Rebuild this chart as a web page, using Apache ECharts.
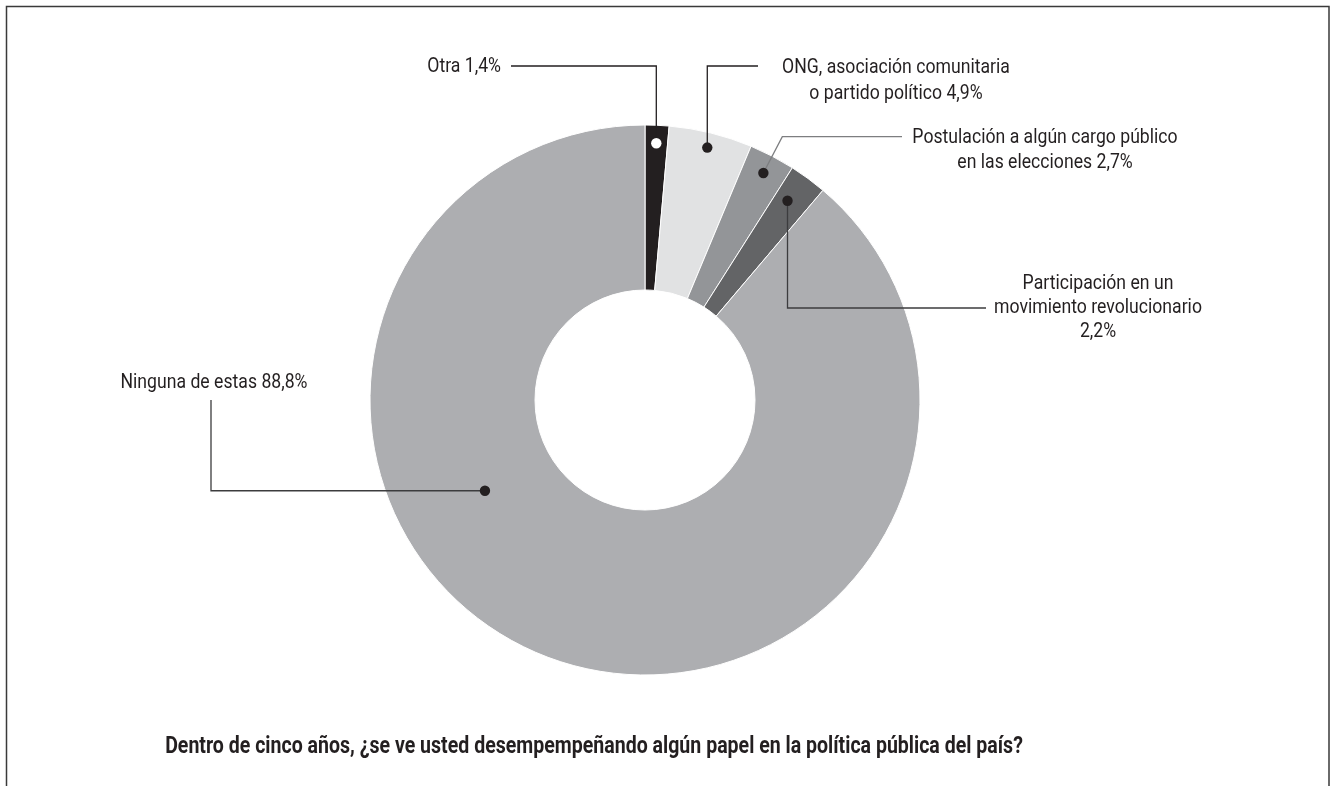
<!DOCTYPE html>
<html>
<head>
<meta charset="utf-8">
<title>Participación en la política pública</title>
<script src="https://cdn.jsdelivr.net/npm/echarts@6/dist/echarts.min.js"></script>
<style>
  html, body { margin: 0; padding: 0; background: #ffffff; }
  #chart { width: 1336px; height: 786px; }
</style>
</head>
<body>
<div id="chart"></div>
<script>
// Survey answers, clockwise from 12 o'clock
const categories = [
  'Otra',
  'ONG, asociación comunitaria o partido político',
  'Postulación a algún cargo público en las elecciones',
  'Participación en un movimiento revolucionario',
  'Ninguna de estas'
];
const shares = [1.4, 4.9, 2.7, 2.2, 88.8];
const sliceColors = ['#231f20', '#e1e2e3', '#939598', '#636466', '#adaeb1'];

// Label wording per slice, {v} is replaced by the formatted share
const labelLines = [
  ['Otra {v}'],
  ['ONG, asociación comunitaria', 'o partido político {v}'],
  ['Postulación a algún cargo público', 'en las elecciones {v}'],
  ['Participación en un', 'movimiento revolucionario', '{v}'],
  ['Ninguna de estas {v}']
];

const titleText = 'Dentro de cinco años, ¿se ve usted desempempeñando algún papel en la política pública del país?';

// ---- layout ----
const CX = 645, CY = 400, R_IN = 110, R_OUT = 275;
const INK = '#231f20';
const TEXT_SCALE = 0.84;          // narrows Roboto to a condensed look
const LABEL_FONT = '21px Roboto';

// Leader-line routing for each slice: where the dot sits inside the slice,
// the turns of the line, and where the text block is placed.
const leaders = [
  { frac: 0.5,   r: 257, dot: '#ffffff', line: INK,
    steps: [{ y: 66 }, { x: 511 }],
    text: { x: 501, y: 67, align: 'right', lh: 26 } },
  { frac: 0.5,   r: 260, dot: INK, line: INK,
    steps: [{ y: 66 }, { x: 758 }],
    text: { x: 896, y: 68, align: 'center', lh: 26 } },
  { frac: 0.5,   r: 256, dot: INK, line: '#7d7e80',
    steps: [{ r: 297 }, { x: 902 }],
    text: { x: 1045, y: 138, align: 'center', lh: 25 } },
  { frac: 0.4,   r: 245, dot: INK, line: '#3c3c3e',
    steps: [{ y: 308 }, { x: 986 }],
    text: { x: 1098, y: 284, align: 'center', lh: 24 } },
  { frac: 0.626, r: 184, dot: INK, line: '#3c3c3e',
    steps: [{ x: 211 }, { y: 400 }],
    text: { x: 214, y: 383, align: 'center', lh: 25 } }
];

function fmt(v) { return v.toFixed(1).replace('.', ',') + '%'; }

// angle in degrees, clockwise from the top
function polar(r, deg) {
  const a = deg * Math.PI / 180;
  return [CX + r * Math.sin(a), CY - r * Math.cos(a)];
}

const total = shares.reduce((s, v) => s + v, 0);
const graphics = [];

// outer frame
graphics.push({
  type: 'rect', silent: true,
  shape: { x: 6.5, y: 6.5, width: 1322.5, height: 820 },
  style: { fill: 'none', stroke: '#3a3a3a', lineWidth: 1.5 }
});

let acc = 0;
shares.forEach((v, i) => {
  const start = acc / total * 360;
  const span = v / total * 360;
  acc += v;
  const L = leaders[i];
  const ang = start + span * L.frac;
  const anchor = polar(L.r, ang);
  const pts = [anchor];
  let cur = anchor;
  L.steps.forEach(s => {
    if (s.r !== undefined) cur = polar(s.r, ang);
    else if (s.x !== undefined) cur = [s.x, cur[1]];
    else cur = [cur[0], s.y];
    pts.push(cur);
  });
  graphics.push({
    type: 'polyline', silent: true, z: 10,
    shape: { points: pts },
    style: { stroke: L.line, lineWidth: 1.3, fill: 'none' }
  });
  graphics.push({
    type: 'circle', silent: true, z: 11,
    shape: { cx: anchor[0], cy: anchor[1], r: 5.2 },
    style: { fill: L.dot }
  });
  labelLines[i].forEach((line, k) => {
    graphics.push({
      type: 'text', silent: true, z: 12,
      x: L.text.x, y: L.text.y + k * L.text.lh,
      scaleX: TEXT_SCALE,
      style: {
        text: line.replace('{v}', fmt(v)),
        font: LABEL_FONT, fill: INK,
        align: L.text.align, verticalAlign: 'middle'
      }
    });
  });
});

// question underneath the chart
graphics.push({
  type: 'text', silent: true, z: 12,
  x: 594, y: 747, scaleX: 0.85,
  style: {
    text: titleText, font: 'bold 23px Roboto', fill: INK,
    align: 'center', verticalAlign: 'middle'
  }
});

const chart = echarts.init(document.getElementById('chart'), null, { renderer: 'canvas' });
chart.setOption({
  animation: false,
  backgroundColor: '#ffffff',
  series: [{
    type: 'pie',
    center: [CX, CY],
    radius: [R_IN, R_OUT],
    startAngle: 90,
    clockwise: true,
    silent: true,
    label: { show: false },
    labelLine: { show: false },
    emphasis: { disabled: true },
    itemStyle: { borderColor: '#ffffff', borderWidth: 1 },
    data: categories.map((name, i) => ({
      name, value: shares[i], itemStyle: { color: sliceColors[i] }
    }))
  }],
  graphic: graphics
});
</script>
</body>
</html>
